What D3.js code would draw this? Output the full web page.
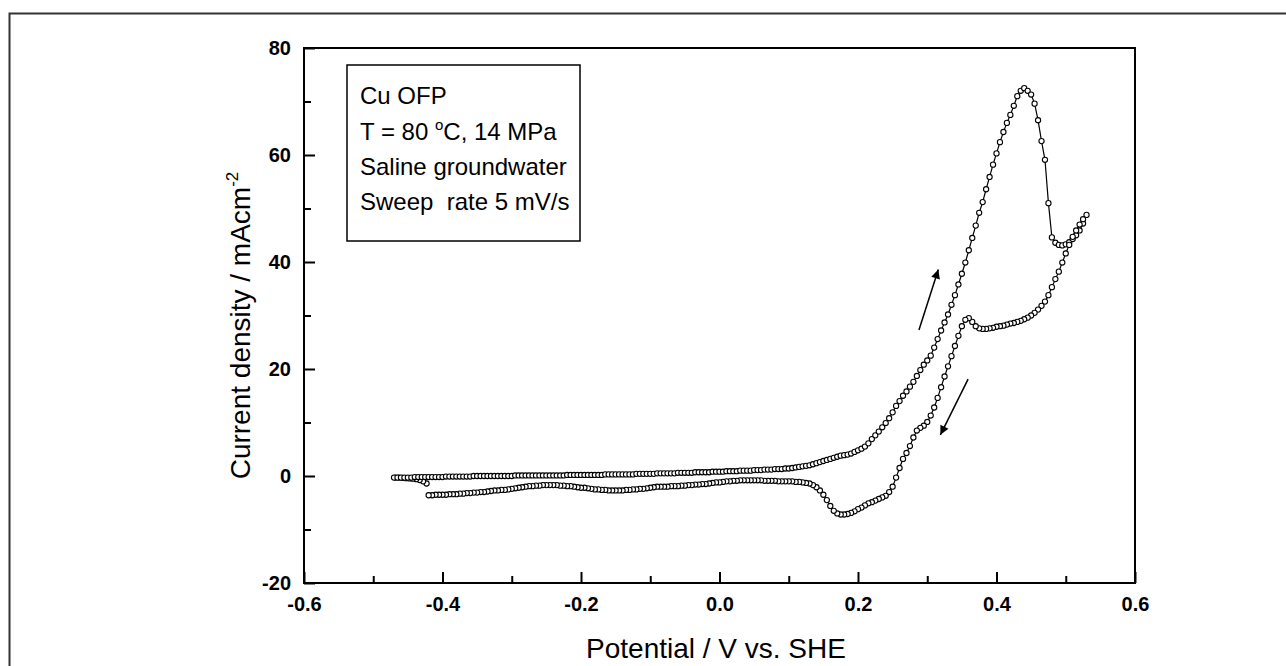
<!DOCTYPE html>
<html>
<head>
<meta charset="utf-8">
<script src="https://cdn.jsdelivr.net/npm/d3@7"></script>
<style>
	body { margin: 0; background: #fff; }
	text { font-family: "Liberation Sans", Arial, sans-serif; fill: #000; white-space: pre; }
</style>
</head>
<body>
<svg id="chart"></svg>
<script>
// potential (V vs. SHE), current density (mA/cm2)
const initialScan = [
	[-0.423,-1.4],[-0.428,-1.0],[-0.433,-0.75],[-0.438,-0.6],[-0.443,-0.5],[-0.448,-0.45],[-0.453,-0.4],[-0.458,-0.35],[-0.463,-0.3],[-0.468,-0.3]
];

const forwardScan = [
	[-0.47,-0.3],[-0.465,-0.3],[-0.46,-0.3],[-0.455,-0.3],[-0.45,-0.3],[-0.445,-0.3],[-0.44,-0.2],[-0.435,-0.2],[-0.43,-0.2],[-0.425,-0.2],
	[-0.42,-0.2],[-0.415,-0.2],[-0.41,-0.2],[-0.405,-0.2],[-0.4,-0.2],[-0.395,-0.1],[-0.39,-0.1],[-0.385,-0.1],[-0.38,-0.1],[-0.375,-0.1],
	[-0.37,-0.1],[-0.365,-0.1],[-0.36,-0.1],[-0.355,0],[-0.35,0],[-0.345,0],[-0.34,0],[-0.335,0],[-0.33,0],[-0.325,0],
	[-0.32,0],[-0.315,0],[-0.31,0],[-0.305,0],[-0.3,0],[-0.295,0.1],[-0.29,0.1],[-0.285,0.1],[-0.28,0.1],[-0.275,0.1],
	[-0.27,0.1],[-0.265,0.1],[-0.26,0.1],[-0.255,0.1],[-0.25,0.1],[-0.245,0.1],[-0.24,0.1],[-0.235,0.1],[-0.23,0.1],[-0.225,0.1],
	[-0.22,0.2],[-0.215,0.2],[-0.21,0.2],[-0.205,0.2],[-0.2,0.2],[-0.195,0.2],[-0.19,0.2],[-0.185,0.2],[-0.18,0.2],[-0.175,0.2],
	[-0.17,0.2],[-0.165,0.3],[-0.16,0.3],[-0.155,0.3],[-0.15,0.3],[-0.145,0.3],[-0.14,0.3],[-0.135,0.3],[-0.13,0.3],[-0.125,0.3],
	[-0.12,0.4],[-0.115,0.4],[-0.11,0.4],[-0.105,0.4],[-0.1,0.4],[-0.095,0.4],[-0.09,0.5],[-0.085,0.5],[-0.08,0.5],[-0.075,0.5],
	[-0.07,0.5],[-0.065,0.5],[-0.06,0.6],[-0.055,0.6],[-0.05,0.6],[-0.045,0.6],[-0.04,0.6],[-0.035,0.7],[-0.03,0.7],[-0.025,0.7],
	[-0.02,0.7],[-0.015,0.7],[-0.01,0.8],[-0.005,0.8],[0,0.8],[0.005,0.8],[0.01,0.9],[0.015,0.9],[0.02,0.9],[0.025,0.9],
	[0.03,1.0],[0.035,1.0],[0.04,1.0],[0.045,1.0],[0.05,1.1],[0.055,1.1],[0.06,1.1],[0.065,1.2],[0.07,1.2],[0.075,1.2],
	[0.08,1.3],[0.085,1.3],[0.09,1.3],[0.095,1.4],[0.1,1.4],[0.105,1.5],[0.11,1.6],[0.115,1.7],[0.12,1.8],[0.125,1.9],
	[0.13,2.0],[0.135,2.2],[0.14,2.4],[0.145,2.6],[0.15,2.8],[0.155,3.0],[0.16,3.2],[0.165,3.4],[0.17,3.6],[0.175,3.8],
	[0.18,3.9],[0.185,4.0],[0.19,4.2],[0.195,4.5],[0.2,4.8],[0.205,5.1],[0.21,5.5],[0.215,6.1],[0.22,6.9],[0.225,7.6],
	[0.23,8.3],[0.235,9.1],[0.24,9.9],[0.245,10.8],[0.25,11.9],[0.255,13.1],[0.26,14.0],[0.265,15.0],[0.27,15.8],[0.275,16.7],
	[0.28,17.6],[0.285,18.7],[0.29,19.8],[0.295,20.8],[0.3,21.6],[0.305,22.5],[0.31,24.0],[0.315,25.6],[0.32,27.2],[0.325,28.7],
	[0.33,30.2],[0.335,32.0],[0.34,33.8],[0.345,35.8],[0.35,37.8],[0.355,39.9],[0.36,42.2],[0.365,44.5],[0.37,46.8],[0.375,49.2],
	[0.38,51.2],[0.385,53.6],[0.39,55.9],[0.395,58.2],[0.4,60.3],[0.405,62.4],[0.41,64.3],[0.415,66.0],[0.42,67.5],[0.425,69.2],
	[0.43,71.0],[0.435,72.0],[0.44,72.5],[0.445,72.0],[0.45,71.3],[0.455,69.6],[0.46,66.5],[0.465,62.6],[0.47,59.1],[0.475,51.0],
	[0.48,44.6],[0.485,43.6],[0.49,43.2],[0.495,43.1],[0.5,43.3],[0.505,43.7],[0.51,44.3],[0.515,45.0],[0.52,45.9],[0.525,47.2],
	[0.53,48.8]
];

const reverseScan = [
	[0.525,48.0],[0.52,47.0],[0.515,45.9],[0.51,44.7],[0.505,43.2],[0.5,41.6],[0.495,39.9],[0.49,38.2],[0.485,36.8],[0.48,35.3],
	[0.475,33.8],[0.47,32.6],[0.465,31.8],[0.46,31.1],[0.455,30.5],[0.45,30.0],[0.445,29.6],[0.44,29.3],[0.435,29.0],[0.43,28.8],
	[0.425,28.6],[0.42,28.5],[0.415,28.3],[0.41,28.1],[0.405,28.0],[0.4,27.9],[0.395,27.7],[0.39,27.6],[0.385,27.5],[0.38,27.5],
	[0.375,27.6],[0.37,28.0],[0.365,28.8],[0.36,29.5],[0.355,29.2],[0.35,28.0],[0.345,26.2],[0.34,24.3],[0.335,22.4],[0.33,20.5],
	[0.325,18.6],[0.32,16.6],[0.315,14.6],[0.31,12.8],[0.305,11.3],[0.3,10.1],[0.295,9.4],[0.29,9.0],[0.285,8.5],[0.28,7.2],
	[0.275,5.6],[0.27,4.3],[0.265,3.2],[0.26,1.5],[0.255,-0.3],[0.25,-2.0],[0.245,-3.0],[0.24,-3.7],[0.235,-4.0],[0.23,-4.3],
	[0.225,-4.6],[0.22,-4.9],[0.215,-5.1],[0.21,-5.5],[0.205,-5.9],[0.2,-6.2],[0.195,-6.6],[0.19,-6.9],[0.185,-7.1],[0.18,-7.2],
	[0.175,-7.2],[0.17,-7.0],[0.165,-6.5],[0.16,-5.6],[0.155,-4.5],[0.15,-3.5],[0.145,-2.7],[0.14,-2.1],[0.135,-1.7],[0.13,-1.4],
	[0.125,-1.3],[0.12,-1.2],[0.115,-1.1],[0.11,-1.1],[0.105,-1.0],[0.1,-1.0],[0.095,-1.0],[0.09,-1.0],[0.085,-1.0],[0.08,-0.9],
	[0.075,-0.9],[0.07,-0.9],[0.065,-0.9],[0.06,-0.8],[0.055,-0.8],[0.05,-0.8],[0.045,-0.8],[0.04,-0.8],[0.035,-0.8],[0.03,-0.8],
	[0.025,-0.9],[0.02,-0.9],[0.015,-1.0],[0.01,-1.0],[0.005,-1.1],[0,-1.2],[-0.005,-1.2],[-0.01,-1.3],[-0.015,-1.4],[-0.02,-1.5],
	[-0.025,-1.5],[-0.03,-1.6],[-0.035,-1.6],[-0.04,-1.7],[-0.045,-1.7],[-0.05,-1.8],[-0.055,-1.8],[-0.06,-1.9],[-0.065,-1.9],[-0.07,-1.9],
	[-0.075,-2.0],[-0.08,-2.0],[-0.085,-2.0],[-0.09,-2.0],[-0.095,-2.1],[-0.1,-2.2],[-0.105,-2.3],[-0.11,-2.4],[-0.115,-2.4],[-0.12,-2.5],
	[-0.125,-2.5],[-0.13,-2.6],[-0.135,-2.6],[-0.14,-2.7],[-0.145,-2.7],[-0.15,-2.7],[-0.155,-2.7],[-0.16,-2.7],[-0.165,-2.6],[-0.17,-2.6],
	[-0.175,-2.5],[-0.18,-2.5],[-0.185,-2.4],[-0.19,-2.3],[-0.195,-2.2],[-0.2,-2.2],[-0.205,-2.1],[-0.21,-2.0],[-0.215,-1.9],[-0.22,-1.9],
	[-0.225,-1.8],[-0.23,-1.8],[-0.235,-1.7],[-0.24,-1.7],[-0.245,-1.7],[-0.25,-1.7],[-0.255,-1.7],[-0.26,-1.8],[-0.265,-1.8],[-0.27,-1.9],
	[-0.275,-1.9],[-0.28,-2.0],[-0.285,-2.1],[-0.29,-2.2],[-0.295,-2.3],[-0.3,-2.4],[-0.305,-2.5],[-0.31,-2.6],[-0.315,-2.6],[-0.32,-2.7],
	[-0.325,-2.7],[-0.33,-2.8],[-0.335,-2.9],[-0.34,-3.0],[-0.345,-3.0],[-0.35,-3.1],[-0.355,-3.1],[-0.36,-3.2],[-0.365,-3.2],[-0.37,-3.3],
	[-0.375,-3.3],[-0.38,-3.4],[-0.385,-3.4],[-0.39,-3.4],[-0.395,-3.5],[-0.4,-3.5],[-0.405,-3.5],[-0.41,-3.5],[-0.415,-3.6],[-0.42,-3.6]
];

// sweep direction arrows: [from, to] in data units
const sweepArrows = [
	[[0.288, 27.3], [0.316, 38.6]],
	[[0.359, 18.1], [0.319, 7.7]]
];

const xTicks = [-0.6, -0.4, -0.2, 0.0, 0.2, 0.4, 0.6];
const xMinorTicks = [-0.5, -0.3, -0.1, 0.1, 0.3, 0.5];
const yTicks = [-20, 0, 20, 40, 60, 80];
const yMinorTicks = [-10, 10, 30, 50, 70];

const legendLines = ['Cu OFP', 'T = 80 °C, 14 MPa', 'Saline groundwater', 'Sweep  rate 5 mV/s'];

const width = 1286;
const height = 666;
const plot = { left: 304, right: 1135, top: 48, bottom: 583 };

const svg = d3.select('#chart')
	.attr('width', width)
	.attr('height', height);

svg.append('rect')
	.attr('x', 9.5).attr('y', 13.5)
	.attr('width', 1300).attr('height', 700)
	.attr('fill', '#fff')
	.attr('stroke', '#333')
	.attr('stroke-width', 2);

const x = d3.scaleLinear().domain([-0.6, 0.6]).range([plot.left, plot.right]);
const y = d3.scaleLinear().domain([-20, 80]).range([plot.bottom, plot.top]);

// axes: ticks point inward
const xAxis = svg.append('g')
	.attr('transform', `translate(0,${plot.bottom})`)
	.call(d3.axisBottom(x).tickValues(xTicks).tickSize(-11).tickPadding(14).tickSizeOuter(0));
const xMinor = svg.append('g')
	.attr('transform', `translate(0,${plot.bottom})`)
	.call(d3.axisBottom(x).tickValues(xMinorTicks).tickSize(-7).tickFormat('').tickSizeOuter(0));
const yAxis = svg.append('g')
	.attr('transform', `translate(${plot.left},0)`)
	.call(d3.axisLeft(y).tickValues(yTicks).tickSize(-11).tickPadding(13).tickSizeOuter(0));
const yMinor = svg.append('g')
	.attr('transform', `translate(${plot.left},0)`)
	.call(d3.axisLeft(y).tickValues(yMinorTicks).tickSize(-7).tickFormat('').tickSizeOuter(0));

[xAxis, xMinor, yAxis, yMinor].forEach(g => {
	g.select('.domain').remove();
	g.selectAll('.tick line').attr('stroke', '#000').attr('stroke-width', 2);
	g.selectAll('.tick text')
		.attr('font-family', '"Liberation Sans", Arial, sans-serif')
		.attr('font-size', 20)
		.attr('font-weight', 'bold')
		.attr('fill', '#000');
});
xAxis.selectAll('.tick text').text(d => d3.format('.1f')(d).replace('−', '-'));
yAxis.selectAll('.tick text').text(d => String(d));

svg.append('rect')
	.attr('x', plot.left).attr('y', plot.top)
	.attr('width', plot.right - plot.left).attr('height', plot.bottom - plot.top)
	.attr('fill', 'none')
	.attr('stroke', '#000')
	.attr('stroke-width', 2);

// axis titles
svg.append('text')
	.attr('x', 716).attr('y', 658)
	.attr('text-anchor', 'middle')
	.attr('font-size', 28)
	.text('Potential / V vs. SHE');

const yTitle = svg.append('text')
	.attr('transform', `translate(250,${(plot.top + plot.bottom) / 2 + 10}) rotate(-90)`)
	.attr('text-anchor', 'middle')
	.attr('font-size', 28);
yTitle.append('tspan').text('Current density / mAcm');
yTitle.append('tspan').attr('font-size', 17).attr('dy', -12).text('-2');

// legend box
svg.append('rect')
	.attr('x', 347).attr('y', 65)
	.attr('width', 233).attr('height', 176)
	.attr('fill', '#fff')
	.attr('stroke', '#000')
	.attr('stroke-width', 1.5);

const legend = svg.append('g').attr('font-size', 24);
legend.append('text').attr('x', 360).attr('y', 104).text(legendLines[0]);
const tLine = legend.append('text').attr('x', 360).attr('y', 140);
tLine.append('tspan').text('T = 80 ');
tLine.append('tspan').attr('font-size', 15).attr('dy', -10).text('o');
tLine.append('tspan').attr('dy', 10).text(legendLines[1].split('°')[1]);
legend.append('text').attr('x', 360).attr('y', 175).text(legendLines[2]);
legend.append('text').attr('x', 360).attr('y', 210).text(legendLines[3]);

// curve
const trace = initialScan.concat(forwardScan, reverseScan);
const line = d3.line().x(d => x(d[0])).y(d => y(d[1]));

svg.append('path')
	.datum(trace)
	.attr('fill', 'none')
	.attr('stroke', '#000')
	.attr('stroke-width', 1.2)
	.attr('d', line);

svg.append('g').selectAll('circle')
	.data(trace)
	.enter().append('circle')
	.attr('cx', d => x(d[0]))
	.attr('cy', d => y(d[1]))
	.attr('r', 2.6)
	.attr('fill', '#fff')
	.attr('stroke', '#000')
	.attr('stroke-width', 1.1);

// arrows
svg.append('defs').append('marker')
	.attr('id', 'arrow-head')
	.attr('viewBox', '0 0 10 10')
	.attr('refX', 10).attr('refY', 5)
	.attr('markerWidth', 15).attr('markerHeight', 9)
	.attr('markerUnits', 'userSpaceOnUse')
	.attr('orient', 'auto')
	.append('path')
	.attr('d', 'M0,0 L10,5 L0,10 z')
	.attr('fill', '#000');

svg.selectAll('line.arrow')
	.data(sweepArrows)
	.enter().append('line')
	.attr('class', 'arrow')
	.attr('x1', d => x(d[0][0])).attr('y1', d => y(d[0][1]))
	.attr('x2', d => x(d[1][0])).attr('y2', d => y(d[1][1]))
	.attr('stroke', '#000')
	.attr('stroke-width', 1.5)
	.attr('marker-end', 'url(#arrow-head)');
</script>
</body>
</html>
